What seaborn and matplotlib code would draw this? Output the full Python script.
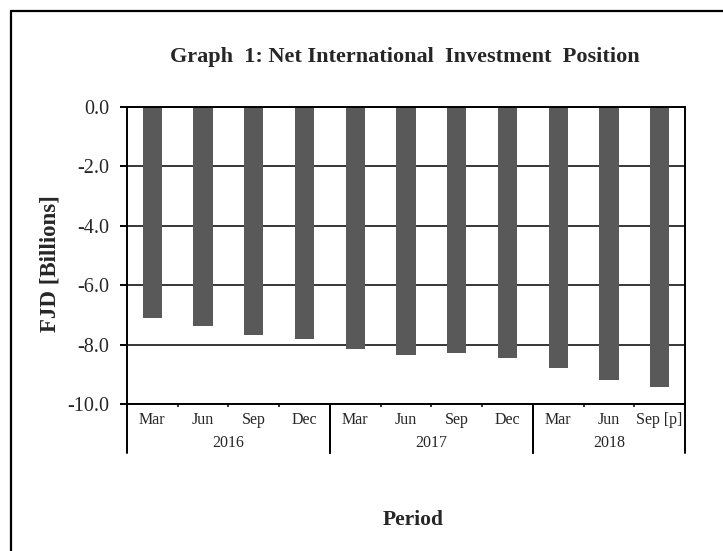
import matplotlib
matplotlib.use("Agg")
import matplotlib.pyplot as plt
import matplotlib.transforms as mtransforms
from matplotlib.lines import Line2D
import numpy as np
import pandas as pd
import seaborn as sns

# ---- data ----
quarters = ["Mar", "Jun", "Sep", "Dec", "Mar", "Jun", "Sep", "Dec", "Mar", "Jun", "Sep [p]"]
years = ["2016", "2016", "2016", "2016", "2017", "2017", "2017", "2017", "2018", "2018", "2018"]
values = [-7.11, -7.36, -7.69, -7.82, -8.15, -8.34, -8.27, -8.46, -8.80, -9.19, -9.44]
y_ticks = [0.0, -2.0, -4.0, -6.0, -8.0, -10.0]
title = "Graph  1: Net International  Investment  Position"
y_label = "FJD [Billions]"
x_label = "Period"

sns.set_theme(style="white")
plt.rcParams["font.family"] = ["Liberation Serif", "DejaVu Serif"]

W, H = 723, 551
fig = plt.figure(figsize=(W / 100, H / 100), dpi=100)
fig.patch.set_facecolor("white")

ax_l, ax_r, ax_t, ax_b = 127, 685, 107, 404
ax = fig.add_axes([ax_l / W, 1 - ax_b / H, (ax_r - ax_l) / W, (ax_b - ax_t) / H])

df = pd.DataFrame({"period": [f"{y} {q}" for y, q in zip(years, quarters)],
                   "value": values})
sns.barplot(data=df, x="period", y="value", color="#595959", saturation=1,
            width=0.38, ax=ax, linewidth=0)

n = len(quarters)
ax.set_xlim(-0.5, n - 0.5)
ax.set_ylim(-10, 0)
ax.set_yticks(y_ticks)
ax.set_yticklabels([f"{v:.1f}" for v in y_ticks], fontsize=14.5)
ax.set_xlabel("")
ax.set_ylabel("")

ax.set_axisbelow(True)
ax.yaxis.grid(True, color="black", lw=1.1)
ax.xaxis.grid(False)

for sp in ax.spines.values():
    sp.set_visible(True)
    sp.set_color("black")
    sp.set_linewidth(1.4)

# category labels / ticks
ax.set_xticks(range(n))
ax.set_xticklabels(quarters, fontsize=11.5)
ax.set_xticks(np.arange(-0.5, n, 1.0), minor=True)
ax.tick_params(axis="x", which="major", bottom=False, top=True, direction="in",
               length=3.2, width=1.1, color="black", labelbottom=True, pad=6)
ax.tick_params(axis="x", which="minor", bottom=True, top=False, direction="out",
               length=2.2, width=1.1, color="black")
ax.tick_params(axis="y", which="major", left=True, direction="out", length=5,
               width=1.4, color="black", pad=8)

# year groups
trans = mtransforms.blended_transform_factory(ax.transData, ax.transAxes)
sep_bottom = -(453 - ax_b) / (ax_b - ax_t)
year_y = -(443 - ax_b) / (ax_b - ax_t)
groups = []
for i, yv in enumerate(years):
    if not groups or groups[-1][0] != yv:
        groups.append([yv, i, i])
    else:
        groups[-1][2] = i
for yv, s, e in groups:
    ax.text((s + e) / 2, year_y, yv, transform=trans, ha="center", va="center",
            fontsize=11.5)
    for xb in (s - 0.5, e + 0.5):
        ax.plot([xb, xb], [0, sep_bottom], transform=trans, color="black",
                lw=1.4, clip_on=False)

# titles
fig.text(405 / W, 1 - 57 / H, title, ha="center", va="center",
         fontsize=16, fontweight="bold")
fig.text(50 / W, 1 - 264 / H, y_label, ha="center", va="center",
         rotation=90, fontsize=16.5, fontweight="bold")
fig.text(413 / W, 1 - 520 / H, x_label, ha="center", va="center",
         fontsize=15.5, fontweight="bold")

# outer chart border (left and top visible)
fig.add_artist(Line2D([11 / W, 11 / W], [0, 1 - 11 / H], transform=fig.transFigure,
                      color="black", lw=1.6))
fig.add_artist(Line2D([11 / W, 1], [1 - 11 / H, 1 - 11 / H], transform=fig.transFigure,
                      color="black", lw=1.6))

fig.savefig("out.png", dpi=100, facecolor="white")
